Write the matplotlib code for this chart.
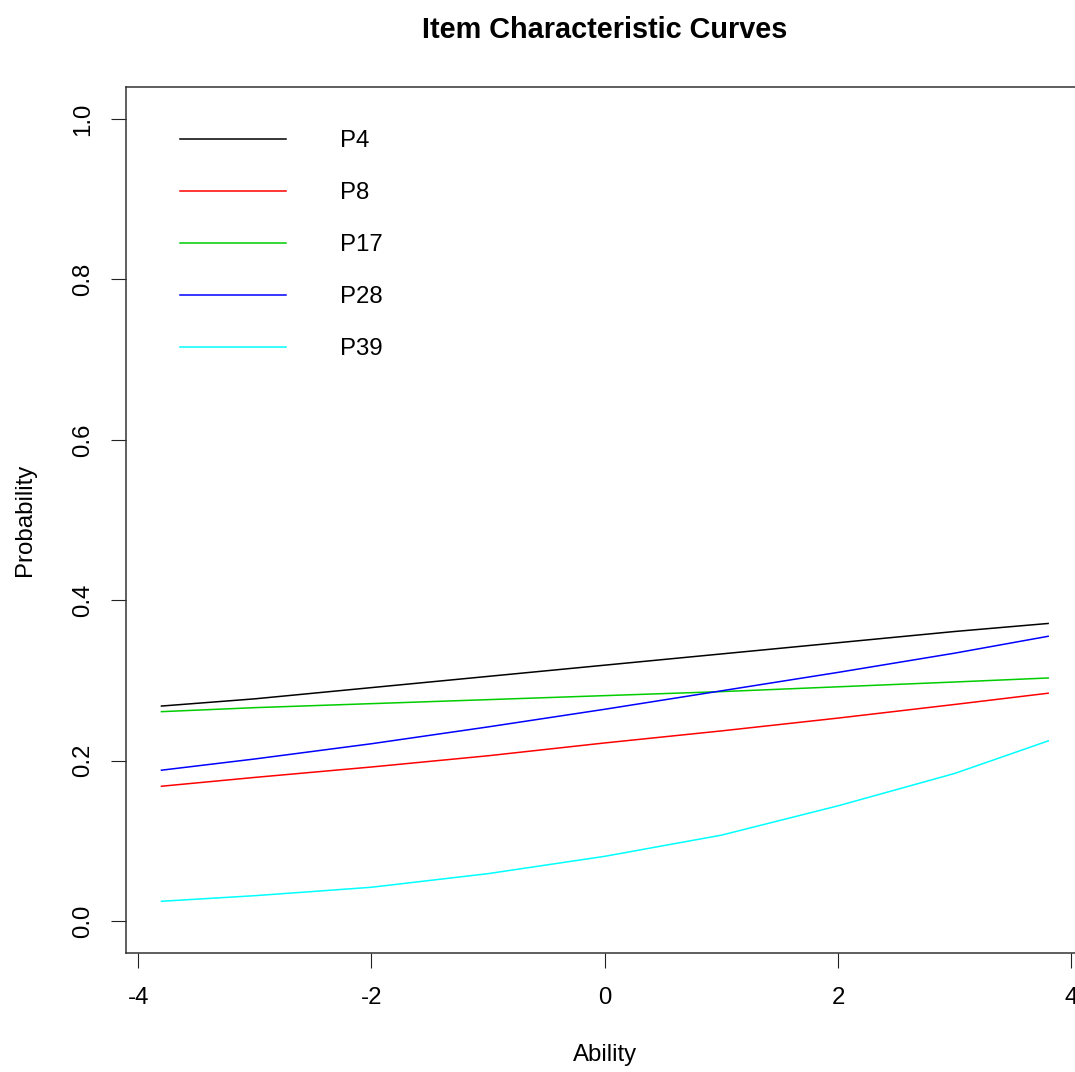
import matplotlib
matplotlib.use("Agg")
import matplotlib.pyplot as plt

plt.rcParams['font.family'] = ['Liberation Sans', 'DejaVu Sans']

ability = [-3.8, -3, -2, -1, 0, 1, 2, 3, 3.8]

items = ["P4", "P8", "P17", "P28", "P39"]
p4 = [0.268, 0.277, 0.291, 0.305, 0.319, 0.333, 0.347, 0.361, 0.371]
p8 = [0.168, 0.179, 0.192, 0.206, 0.222, 0.237, 0.253, 0.270, 0.284]
p17 = [0.261, 0.266, 0.271, 0.276, 0.281, 0.286, 0.292, 0.298, 0.303]
p28 = [0.188, 0.202, 0.221, 0.242, 0.264, 0.287, 0.310, 0.334, 0.355]
p39 = [0.0245, 0.0315, 0.042, 0.059, 0.0806, 0.107, 0.1436, 0.184, 0.2245]
curves = [p4, p8, p17, p28, p39]
colors = ["#000000", "#FF0000", "#00CD00", "#0000FF", "#00FFFF"]

xticks = [-4, -2, 0, 2, 4]
yticks = [0.0, 0.2, 0.4, 0.6, 0.8, 1.0]

fs = 17.3

fig = plt.figure(figsize=(10.75, 10.72), dpi=100)
ax = fig.add_axes([0.11721, 0.1110, 0.8908, 0.8078])

for name, vals, col in zip(items, curves, colors):
    ax.plot(ability, vals, color=col, lw=1.1, label=name)

ax.set_xlim(-4.104, 4.104)
ax.set_ylim(-0.04, 1.04)
ax.set_xticks(xticks)
ax.set_xticklabels([str(t) for t in xticks])
ax.set_yticks(yticks)
ax.set_yticklabels(["{:.1f}".format(t) for t in yticks], rotation=90, va='center')
ax.tick_params(direction='out', length=10.8, width=0.8, labelsize=fs, color='#222222')
ax.tick_params(axis='x', pad=14)
ax.tick_params(axis='y', pad=12)
for sp in ax.spines.values():
    sp.set_linewidth(1.1)
    sp.set_color('#333333')

ax.set_xlabel("Ability", fontsize=fs, va='center')
ax.xaxis.set_label_coords(0.5, -0.1178)
ax.set_ylabel("Probability", fontsize=fs, va='center', rotation=90)
ax.yaxis.set_label_coords(-0.1055, 0.5)

fig.text(605 / 1075, 1 - 30 / 1072, "Item Characteristic Curves",
         ha='center', va='center', fontsize=fs * 1.2, fontweight='bold')

ax.legend(loc='upper left', bbox_to_anchor=(180 / 1075, 1 - 130 / 1072),
          bbox_transform=fig.transFigure, frameon=False, fontsize=fs,
          borderpad=0, borderaxespad=0, handlelength=4.42,
          handletextpad=2.25, labelspacing=1.25)

fig.savefig("out.png", dpi=100)
